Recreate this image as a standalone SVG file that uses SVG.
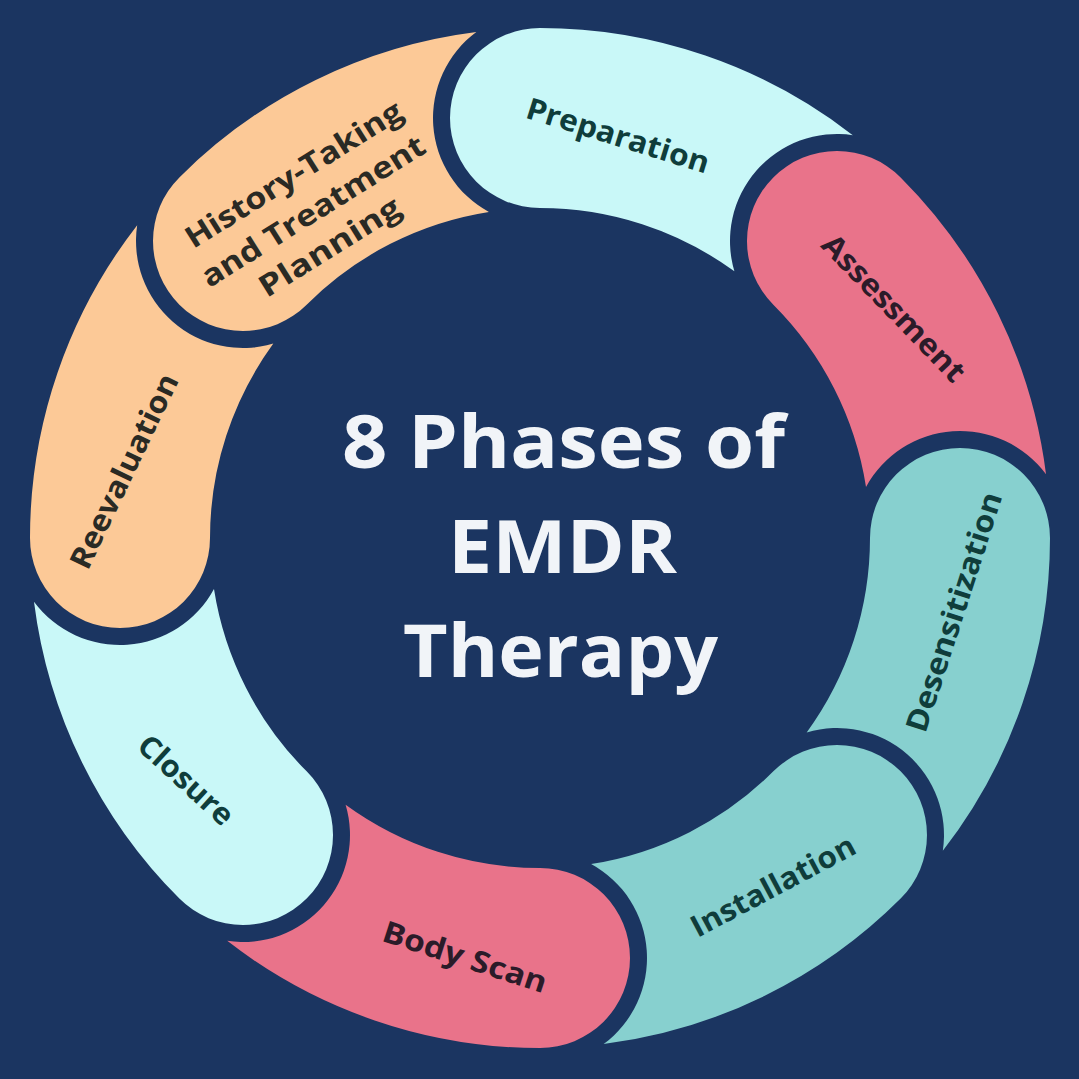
<svg xmlns="http://www.w3.org/2000/svg" xmlns:xlink="http://www.w3.org/1999/xlink" width="1079" height="1079" viewBox="0 0 1079 1079">
  <style>
    .bg { fill: #1b3561; }
    .peach { fill: #fcc997; }
    .cyan { fill: #c9f8f8; }
    .pink { fill: #e9738a; }
    .teal { fill: #87d0cf; }
    .lbl { font-family: "Open Sans", "Liberation Sans", sans-serif; font-weight: 700; font-size: 30px; text-anchor: middle; }
    .dkteal { fill: #0f3d3b; }
    .dkbrown { fill: #2a2a24; }
    .dkplum { fill: #2b1b29; }
    .title { font-family: "Open Sans", "Liberation Sans", sans-serif; font-weight: 700; font-size: 74px; fill: #f1f4f8; text-anchor: middle; }
  </style>
  <defs>
    <path id="seg" d="M 0,-510 A 510 510 0 0 1 312.79,-402.82 A 107 107 0 0 0 194.39,-266.67 A 330 330 0 0 0 0,-330 A 90 90 0 0 1 0,-510 Z"/>
  </defs>
  <rect class="bg" x="0" y="0" width="1079" height="1079"/>

  <g id="connectors"></g>

  <g id="phase1-history">
    <use xlink:href="#seg" class="peach" transform="translate(540 538) rotate(315)"/>
    <g transform="translate(313 211) rotate(-32)">
      <text class="lbl dkbrown" x="3" y="-31" textLength="250" lengthAdjust="spacingAndGlyphs">History-Taking</text>
      <text class="lbl dkbrown" x="0" y="10.5" textLength="258" lengthAdjust="spacingAndGlyphs">and Treatment</text>
      <text class="lbl dkbrown" x="-5" y="49.5" textLength="161" lengthAdjust="spacingAndGlyphs">Planning</text>
    </g>
  </g>

  <g id="phase2-preparation">
    <use xlink:href="#seg" class="cyan" transform="translate(540 538) rotate(0)"/>
    <text class="lbl dkteal" transform="translate(618 135.5) rotate(17.2)" x="0" y="10.5" textLength="190" lengthAdjust="spacingAndGlyphs">Preparation</text>
  </g>

  <g id="phase3-assessment">
    <use xlink:href="#seg" class="pink" transform="translate(540 538) rotate(45)"/>
    <text class="lbl dkplum" transform="translate(894 308) rotate(46)" x="0" y="10.5" textLength="192" lengthAdjust="spacingAndGlyphs">Assessment</text>
  </g>

  <g id="phase4-desensitization">
    <use xlink:href="#seg" class="teal" transform="translate(540 538) rotate(90)"/>
    <text class="lbl dkteal" transform="translate(954 612) rotate(-72)" x="0" y="10.5" textLength="250" lengthAdjust="spacingAndGlyphs">Desensitization</text>
  </g>

  <g id="phase5-installation">
    <use xlink:href="#seg" class="teal" transform="translate(540 538) rotate(135)"/>
    <text class="lbl dkteal" transform="translate(773 886) rotate(-28)" x="0" y="10.5" textLength="182" lengthAdjust="spacingAndGlyphs">Installation</text>
  </g>

  <g id="phase6-bodyscan">
    <use xlink:href="#seg" class="pink" transform="translate(540 538) rotate(180)"/>
    <text class="lbl dkplum" transform="translate(465 957) rotate(18)" x="0" y="10.5" textLength="171" lengthAdjust="spacingAndGlyphs">Body Scan</text>
  </g>

  <g id="phase7-closure">
    <use xlink:href="#seg" class="cyan" transform="translate(540 538) rotate(225)"/>
    <text class="lbl dkteal" transform="translate(186 780) rotate(42.5)" x="0" y="10.5" textLength="118" lengthAdjust="spacingAndGlyphs">Closure</text>
  </g>

  <g id="phase8-reevaluation">
    <use xlink:href="#seg" class="peach" transform="translate(540 538) rotate(270)"/>
    <text class="lbl dkbrown" transform="translate(124 471) rotate(-64.4)" x="0" y="10.5" textLength="212" lengthAdjust="spacingAndGlyphs">Reevaluation</text>
  </g>

  <g id="title">
    <text class="title" x="563.5" y="468" textLength="443" lengthAdjust="spacingAndGlyphs">8 Phases of</text>
    <text class="title" x="562.5" y="573" textLength="229" lengthAdjust="spacingAndGlyphs">EMDR</text>
    <text class="title" x="560.5" y="677" textLength="315" lengthAdjust="spacingAndGlyphs">Therapy</text>
  </g>
</svg>
